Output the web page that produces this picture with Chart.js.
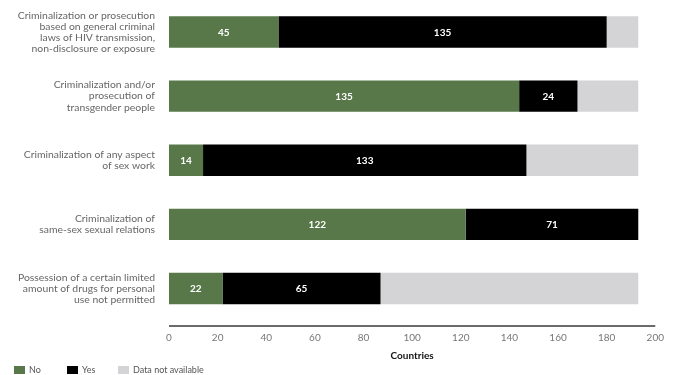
<!DOCTYPE html>
<html>
<head>
<meta charset="utf-8">
<script src="https://cdn.jsdelivr.net/npm/chart.js@4"></script>
<style>
  html, body { margin: 0; padding: 0; background: #fff; overflow: hidden; }
  #wrap { position: relative; width: 675px; height: 375px; }
  #legend { position: absolute; left: 0; top: 365px; font: 9px Lato, "Noto Sans", sans-serif; color: #555; }
  .item { position: absolute; top: 0; white-space: nowrap; line-height: 10px; }
  .box { display: inline-block; width: 11px; height: 8px; vertical-align: -1px; margin-right: 4px; }
</style>
</head>
<body>
<div id="wrap">
  <canvas id="lawsChart" width="675" height="375"></canvas>
  <div id="legend"></div>
</div>
<script>
const categories = [
    ['Criminalization or prosecution', 'based on general criminal', 'laws of HIV transmission,', 'non-disclosure or exposure'],
    ['Criminalization and/or', 'prosecution of', 'transgender people'],
    ['Criminalization of any aspect', 'of sex work'],
    ['Criminalization of', 'same-sex sexual relations'],
    ['Possession of a certain limited', 'amount of drugs for personal', 'use not permitted']
];
// bar lengths as drawn in the source (the transgender bar's green part is
// drawn to ~144 although its printed label reads 135)
const noValues = [45, 144, 14, 122, 22];
const yesValues = [135, 24, 133, 71, 65];
const notAvailable = [13, 25, 46, 0, 106];
// numbers printed inside the bars
const noLabels = ['45', '135', '14', '122', '22'];
const yesLabels = ['135', '24', '133', '71', '65'];

const seriesNames = ['No', 'Yes', 'Data not available'];
const seriesColors = ['#58784a', '#000000', '#d4d4d6'];

const FONT = 'Lato, "Noto Sans", sans-serif';

// White value labels inside the No / Yes segments
const segmentLabels = {
    id: 'segmentLabels',
    afterDatasetsDraw(chart) {
        const ctx = chart.ctx;
        const texts = [noLabels, yesLabels];
        ctx.save();
        ctx.fillStyle = '#ffffff';
        ctx.font = 'bold 10px ' + FONT;
        ctx.textAlign = 'center';
        ctx.textBaseline = 'middle';
        [0, 1].forEach(i => {
            const meta = chart.getDatasetMeta(i);
            meta.data.forEach((bar, j) => {
                ctx.fillText(texts[i][j], (bar.x + bar.base) / 2, bar.y + 0.5);
            });
        });
        ctx.restore();
    }
};

// The x axis line sits a little below the bars
const axisLine = {
    id: 'axisLine',
    afterDraw(chart) {
        const { ctx, chartArea } = chart;
        const y = chartArea.bottom + 5.5;
        ctx.save();
        ctx.strokeStyle = '#6b6b6b';
        ctx.lineWidth = 2;
        ctx.beginPath();
        ctx.moveTo(chartArea.left, y);
        ctx.lineTo(chartArea.right, y);
        ctx.stroke();
        ctx.restore();
    }
};

const ctx = document.getElementById('lawsChart').getContext('2d');
const lawsChart = new Chart(ctx, {
    type: 'bar',
    data: {
        labels: categories,
        datasets: [
            { label: seriesNames[0], data: noValues, backgroundColor: seriesColors[0] },
            { label: seriesNames[1], data: yesValues, backgroundColor: seriesColors[1] },
            { label: seriesNames[2], data: notAvailable, backgroundColor: seriesColors[2] }
        ]
    },
    options: {
        indexAxis: 'y',
        responsive: false,
        animation: false,
        layout: { padding: { top: 0, right: 18, left: 0, bottom: 0 } },
        datasets: { bar: { barPercentage: 0.49, categoryPercentage: 1 } },
        plugins: {
            legend: { display: false },
            tooltip: { enabled: false }
        },
        scales: {
            x: {
                stacked: true,
                min: 0,
                max: 200,
                afterFit(scale) { scale.height = 54.5; },
                ticks: { stepSize: 20, color: '#777', font: { family: FONT, size: 10 }, padding: 11 },
                grid: { display: false, drawTicks: false },
                border: { display: false },
                title: {
                    display: true,
                    text: 'Countries',
                    color: '#111',
                    font: { family: FONT, size: 10, weight: 'bold' },
                    padding: { top: 4, bottom: 13 }
                }
            },
            y: {
                stacked: true,
                afterFit(scale) {
                    scale.width = 169;
                    scale.paddingTop = 0;
                    scale.paddingBottom = 0;
                },
                ticks: {
                    color: '#666',
                    padding: 14,
                    font: { family: FONT, size: 10.4, lineHeight: 1.06 }
                },
                grid: { display: false, drawTicks: false },
                border: { display: false }
            }
        }
    },
    plugins: [segmentLabels, axisLine]
});

// Legend row at the bottom left
const legendX = [14, 67, 118];
const legendEl = document.getElementById('legend');
seriesNames.forEach((name, i) => {
    const item = document.createElement('div');
    item.className = 'item';
    item.style.left = legendX[i] + 'px';
    item.innerHTML = '<span class="box" style="background:' + seriesColors[i] + '"></span>' + name;
    legendEl.appendChild(item);
});
</script>
</body>
</html>
